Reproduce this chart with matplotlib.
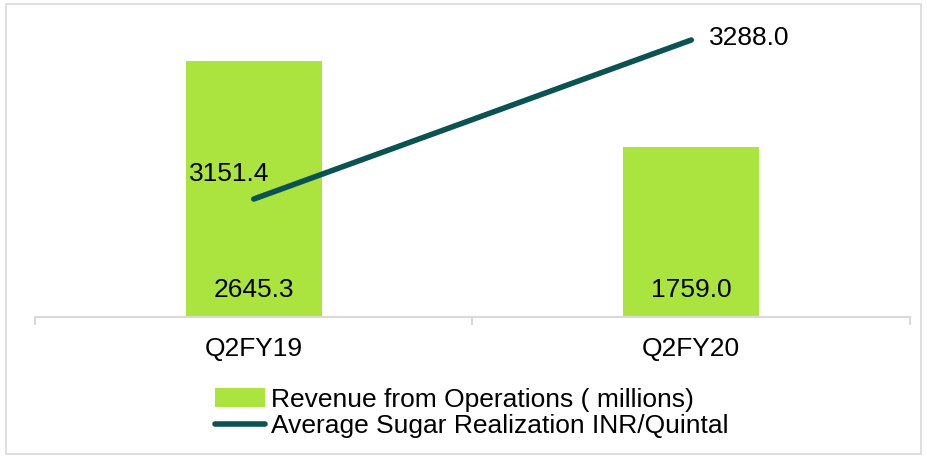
import matplotlib.pyplot as plt
from matplotlib.patches import Rectangle

plt.rcParams['font.family'] = ['Liberation Sans', 'DejaVu Sans']

quarters = ["Q2FY19", "Q2FY20"]
revenue = [2645.3, 1759.0]
realization = [3151.4, 3288.0]

bar_color = "#ABE43F"
line_color = "#0B5253"
axis_color = "#D9D9D9"
fs = 19

fig = plt.figure(figsize=(9.27, 4.58), dpi=100)
fig.patches.append(Rectangle((0.007, 0.008), 0.986, 0.984, transform=fig.transFigure,
                             fill=False, edgecolor=axis_color, linewidth=1.2))

ax = fig.add_axes([35 / 927, 1 - 316.5 / 458, 875 / 927, 290 / 458])
x = range(len(quarters))
bars = ax.bar(x, revenue, width=0.31, color=bar_color, label="Revenue from Operations ( millions)")
ax.set_xlim(-0.5, 1.5)
ax.set_ylim(0, 2645.3 * 290 / 255.5)
ax.set_yticks([])
for s in ["top", "right", "left"]:
    ax.spines[s].set_visible(False)
ax.spines["bottom"].set_color(axis_color)
ax.spines["bottom"].set_linewidth(1.5)
ax.set_xticks([-0.5, 0.5, 1.5], minor=False)
ax.set_xticklabels([])
ax.tick_params(axis="x", which="major", length=6, width=1.5, color=axis_color)
ax.set_xticks(list(x), minor=True)
ax.set_xticklabels(quarters, minor=True, fontsize=fs)
ax.tick_params(axis="x", which="minor", length=0, pad=15)

for xi, v in zip(x, revenue):
    ax.text(xi, 0.093 * ax.get_ylim()[1], f"{v:.1f}", ha="center", va="center", fontsize=fs)

ax2 = ax.twinx()
ln, = ax2.plot(list(x), realization, color=line_color, linewidth=4, solid_capstyle="round",
               label="Average Sugar Realization INR/Quintal")
ax2.set_ylim(3050.5, 3299.6)
ax2.axis("off")
ax2.annotate(f"{realization[0]:.1f}", (0, realization[0]), xytext=(-25, 25),
             textcoords="offset pixels", ha="center", va="center", fontsize=fs)
ax2.annotate(f"{realization[1]:.1f}", (1, realization[1]), xytext=(58, 2),
             textcoords="offset pixels", ha="center", va="center", fontsize=fs)

fig.legend(handles=[bars, ln], loc="center", bbox_to_anchor=(472 / 927, 1 - 413 / 458),
           frameon=False, fontsize=fs, handlelength=1.9, handletextpad=0.23,
           labelspacing=0.1, borderpad=0)

fig.savefig("out.png", dpi=100)
